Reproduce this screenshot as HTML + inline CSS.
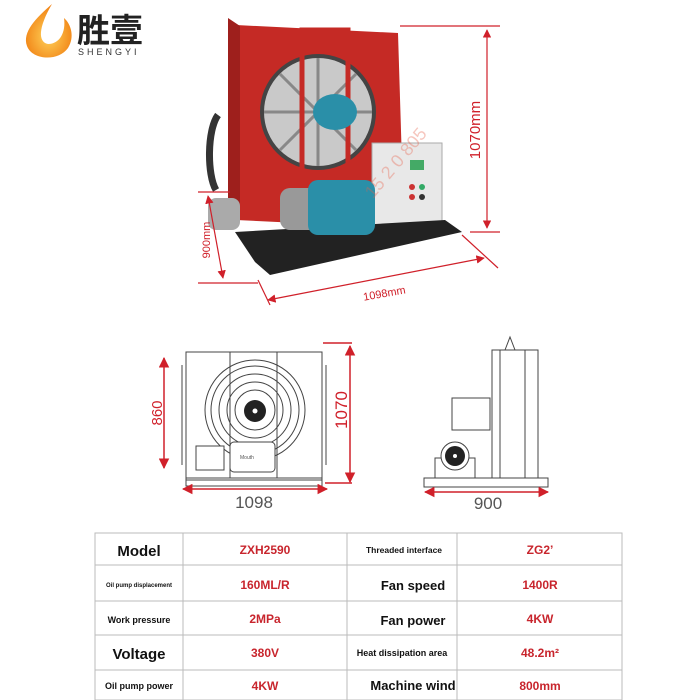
<!DOCTYPE html>
<html><head><meta charset="utf-8"><style>
body{margin:0;width:700px;height:700px;background:#fff;overflow:hidden;font-family:"Liberation Sans","Noto Sans CJK SC",sans-serif}
svg{display:block}
</style></head><body>
<svg width="700" height="700" viewBox="0 0 700 700" xmlns="http://www.w3.org/2000/svg" font-family="Liberation Sans, Noto Sans CJK SC, sans-serif">
<defs>
<marker id="a" viewBox="0 0 10 10" refX="9" refY="5" markerWidth="7" markerHeight="7" orient="auto-start-reverse"><path d="M0,0L10,5L0,10z" fill="#d0202a"/></marker>
<radialGradient id="fl" cx="50%" cy="60%" r="60%"><stop offset="0" stop-color="#ffd35a"/><stop offset="1" stop-color="#f07d10"/></radialGradient>
</defs>
<!-- logo -->
<path d="M52,4 C36,18 22,32 27,46 C32,60 58,62 68,48 C75,37 71,24 64,18 C66,32 60,44 48,44 C38,42 38,28 52,4z" fill="url(#fl)"/>
<text x="77" y="42" font-size="33" font-weight="bold" fill="#222">胜壹</text>
<text x="78" y="55" font-size="9" letter-spacing="3" fill="#333">SHENGYI</text>
<!-- photo: machine -->
<polygon points="236,25 398,33 404,228 236,220" fill="#c52a25"/>
<polygon points="228,18 240,26 240,215 228,210" fill="#9e1f1c"/>
<circle cx="318" cy="112" r="58" fill="#444"/>
<circle cx="318" cy="112" r="54" fill="#c9c9c9"/>
<g stroke="#888" stroke-width="3">
<line x1="264" y1="112" x2="372" y2="112"/><line x1="318" y1="58" x2="318" y2="166"/><line x1="280" y1="74" x2="356" y2="150"/><line x1="356" y1="74" x2="280" y2="150"/></g>
<rect x="302" y="30" width="46" height="150" fill="none" stroke="#c52a25" stroke-width="5"/>
<ellipse cx="335" cy="112" rx="22" ry="18" fill="#2a8fa8"/>
<rect x="372" y="143" width="70" height="85" fill="#e8e8e8" stroke="#aaa"/>
<rect x="410" y="160" width="14" height="10" fill="#4a6"/>
<circle cx="412" cy="187" r="3" fill="#c33"/><circle cx="422" cy="187" r="3" fill="#3a6"/>
<circle cx="412" cy="197" r="3" fill="#c33"/><circle cx="422" cy="197" r="3" fill="#333"/>
<polygon points="235,232 445,220 462,232 270,275 255,262" fill="#222"/>
<rect x="280" y="188" width="40" height="42" rx="10" fill="#999"/>
<rect x="308" y="180" width="67" height="55" rx="10" fill="#2a8fa8"/>
<rect x="208" y="198" width="32" height="32" rx="8" fill="#aaa"/>
<path d="M218,115 C207,130 207,175 216,190" stroke="#333" stroke-width="7" fill="none"/>
<text x="350" y="210" font-size="18" fill="#e8604a" opacity="0.35" transform="rotate(-50 350 180)">15 2 0 805</text>
<!-- photo dimensions -->
<g stroke="#d0202a" stroke-width="1.2" fill="none">
<line x1="400" y1="26" x2="500" y2="26"/><line x1="470" y1="232" x2="500" y2="232"/>
<line x1="487" y1="30" x2="487" y2="228" marker-start="url(#a)" marker-end="url(#a)"/>
<line x1="198" y1="192" x2="230" y2="192"/><line x1="198" y1="283" x2="258" y2="283"/>
<line x1="208" y1="196" x2="223" y2="278" marker-start="url(#a)" marker-end="url(#a)"/>
<line x1="258" y1="280" x2="270" y2="305"/><line x1="462" y1="235" x2="498" y2="268"/>
<line x1="268" y1="300" x2="484" y2="258" marker-start="url(#a)" marker-end="url(#a)"/>
</g>
<text x="480" y="130" font-size="15" fill="#d0202a" transform="rotate(-90 480 130)" text-anchor="middle">1070mm</text>
<text x="210" y="240" font-size="11" fill="#d0202a" transform="rotate(-90 210 240)" text-anchor="middle">900mm</text>
<text x="385" y="297" font-size="11" fill="#d0202a" transform="rotate(-10 385 297)" text-anchor="middle">1098mm</text>
<!-- front drawing -->
<g stroke="#444" stroke-width="1" fill="none">
<rect x="186" y="352" width="136" height="128"/>
<line x1="230" y1="352" x2="230" y2="478"/><line x1="277" y1="352" x2="277" y2="478"/>
<circle cx="255" cy="410" r="50"/><circle cx="255" cy="410" r="44"/><circle cx="255" cy="410" r="36"/><circle cx="255" cy="410" r="28"/><circle cx="255" cy="410" r="20"/>
<rect x="186" y="478" width="136" height="8"/>
<rect x="230" y="442" width="45" height="30" rx="4" fill="#fff"/>
<rect x="196" y="446" width="28" height="24" fill="#fff"/>
<line x1="182" y1="365" x2="182" y2="465"/><line x1="326" y1="365" x2="326" y2="465"/>
</g>
<circle cx="255" cy="411" r="11" fill="#222"/><circle cx="255" cy="411" r="2.5" fill="#fff"/>
<text x="240" y="459" font-size="5" fill="#555">Mouth</text>
<g stroke="#d0202a" stroke-width="1.5" fill="none">
<line x1="164" y1="358" x2="164" y2="468" marker-start="url(#a)" marker-end="url(#a)"/>
<line x1="350" y1="346" x2="350" y2="482" marker-start="url(#a)" marker-end="url(#a)"/>
<line x1="183" y1="489" x2="327" y2="489" marker-start="url(#a)" marker-end="url(#a)"/>
<line x1="323" y1="343" x2="352" y2="343"/><line x1="325" y1="483" x2="352" y2="483"/>
</g>
<text x="166" y="413" font-size="15" fill="#d0202a" transform="rotate(-90 166 413)" text-anchor="middle" dy="-4">860</text>
<text x="342" y="410" font-size="17" fill="#d0202a" transform="rotate(-90 342 410)" text-anchor="middle" dy="5">1070</text>
<text x="254" y="508" font-size="17" fill="#555" text-anchor="middle">1098</text>
<!-- side drawing -->
<g stroke="#444" stroke-width="1" fill="none">
<rect x="492" y="350" width="46" height="128"/><line x1="500" y1="350" x2="500" y2="478"/><line x1="525" y1="350" x2="525" y2="478"/>
<path d="M505,350 L510,337 L515,350"/>
<rect x="424" y="478" width="124" height="9"/>
<rect x="452" y="398" width="38" height="32"/>
<rect x="435" y="458" width="40" height="20"/>
</g>
<circle cx="455" cy="456" r="14" fill="#fff" stroke="#444"/><circle cx="455" cy="456" r="10" fill="#222"/><circle cx="455" cy="456" r="2" fill="#fff"/>
<line x1="425" y1="492" x2="548" y2="492" stroke="#d0202a" stroke-width="1.5" marker-start="url(#a)" marker-end="url(#a)"/>
<text x="488" y="509" font-size="17" fill="#555" text-anchor="middle">900</text>
<!-- table -->
<g stroke="#bbb" stroke-width="1" fill="none">
<rect x="95" y="533" width="527" height="167"/>
<line x1="183" y1="533" x2="183" y2="700"/><line x1="347" y1="533" x2="347" y2="700"/><line x1="457" y1="533" x2="457" y2="700"/>
<line x1="95" y1="565" x2="622" y2="565"/><line x1="95" y1="601" x2="622" y2="601"/><line x1="95" y1="635" x2="622" y2="635"/><line x1="95" y1="670" x2="622" y2="670"/>
</g>
<g font-weight="bold" text-anchor="middle">
<text x="139" y="556" font-size="15" fill="#111">Model</text>
<text x="139" y="587" font-size="6" fill="#111">Oil pump displacement</text>
<text x="139" y="623" font-size="9" fill="#111">Work pressure</text>
<text x="139" y="659" font-size="15" fill="#111">Voltage</text>
<text x="139" y="689" font-size="9" fill="#111">Oil pump power</text>
<text x="265" y="554" font-size="12" fill="#c8252d">ZXH2590</text>
<text x="265" y="589" font-size="12" fill="#c8252d">160ML/R</text>
<text x="265" y="623" font-size="12" fill="#c8252d">2MPa</text>
<text x="265" y="657" font-size="12" fill="#c8252d">380V</text>
<text x="265" y="690" font-size="12" fill="#c8252d">4KW</text>
<text x="404" y="553" font-size="8.5" fill="#111">Threaded interface</text>
<text x="413" y="590" font-size="13" fill="#111">Fan speed</text>
<text x="413" y="625" font-size="13" fill="#111">Fan power</text>
<text x="402" y="656" font-size="9" fill="#111">Heat dissipation area</text>
<text x="413" y="690" font-size="13" fill="#111">Machine wind</text>
<text x="540" y="554" font-size="12" fill="#c8252d">ZG2’</text>
<text x="540" y="589" font-size="12" fill="#c8252d">1400R</text>
<text x="540" y="623" font-size="12" fill="#c8252d">4KW</text>
<text x="540" y="657" font-size="12" fill="#c8252d">48.2m²</text>
<text x="540" y="690" font-size="12" fill="#c8252d">800mm</text>
</g>
</svg>
</body></html>
